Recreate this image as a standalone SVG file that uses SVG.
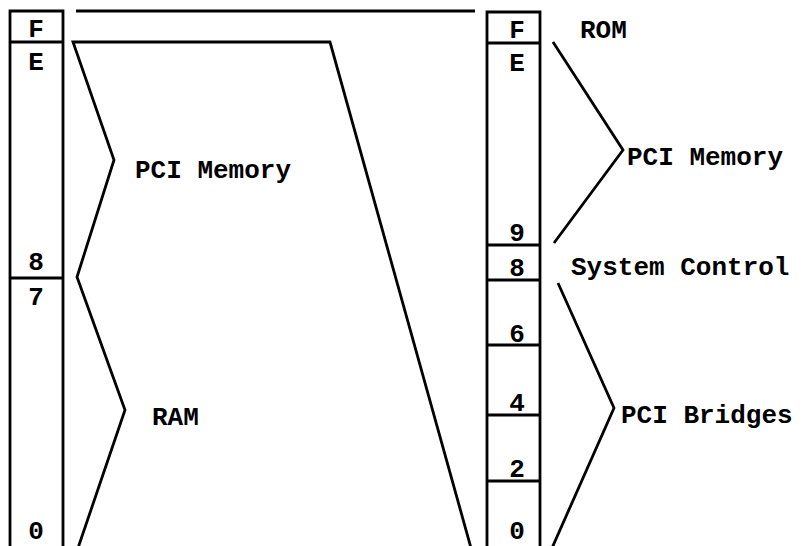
<svg xmlns="http://www.w3.org/2000/svg" width="802" height="546" viewBox="0 0 802 546">
<style>
.ln{fill:none;stroke:#000;stroke-width:2.8;stroke-linejoin:miter}
.t{font-family:"Liberation Mono","Courier New",monospace;font-weight:bold;font-size:26px;fill:#000}
.c{text-anchor:middle}
</style>
<rect width="802" height="546" fill="#fff"/>
<g id="left-column">
<path class="ln" d="M10,548 V11 H63 V548"/>
<line class="ln" x1="10" y1="42" x2="63" y2="42"/>
<line class="ln" x1="10" y1="278" x2="63" y2="278"/>
<text class="t c" x="36" y="37">F</text>
<text class="t c" x="36" y="70">E</text>
<text class="t c" x="36" y="270">8</text>
<text class="t c" x="36" y="305">7</text>
<text class="t c" x="36" y="539">0</text>
</g>
<g id="right-column">
<path class="ln" d="M487,548 V12 H540 V548"/>
<line class="ln" x1="487" y1="43" x2="540" y2="43"/>
<line class="ln" x1="487" y1="245" x2="540" y2="245"/>
<line class="ln" x1="487" y1="280" x2="540" y2="280"/>
<line class="ln" x1="487" y1="345" x2="540" y2="345"/>
<line class="ln" x1="487" y1="415" x2="540" y2="415"/>
<line class="ln" x1="487" y1="481" x2="540" y2="481"/>
<text class="t c" x="517" y="38">F</text>
<text class="t c" x="517" y="71">E</text>
<text class="t c" x="517" y="241">9</text>
<text class="t c" x="517" y="276">8</text>
<text class="t c" x="517" y="342">6</text>
<text class="t c" x="517" y="411">4</text>
<text class="t c" x="517" y="477">2</text>
<text class="t c" x="517" y="539">0</text>
</g>
<g id="connectors">
<line class="ln" x1="76" y1="11" x2="475" y2="11"/>
<path class="ln" d="M78,548 L125,410 L77,277 L114,160 L73,42 H330 L471,548"/>
<path class="ln" d="M553,42 L623,150 L554,243"/>
<path class="ln" d="M558,283 L614,408 L552,548"/>
</g>
<g id="labels">
<text class="t" x="135" y="178">PCI Memory</text>
<text class="t" x="152" y="425">RAM</text>
<text class="t" x="580" y="38">ROM</text>
<text class="t" x="627" y="165">PCI Memory</text>
<text class="t" x="571" y="275">System Control</text>
<text class="t" x="621" y="423">PCI Bridges</text>
</g>
</svg>
